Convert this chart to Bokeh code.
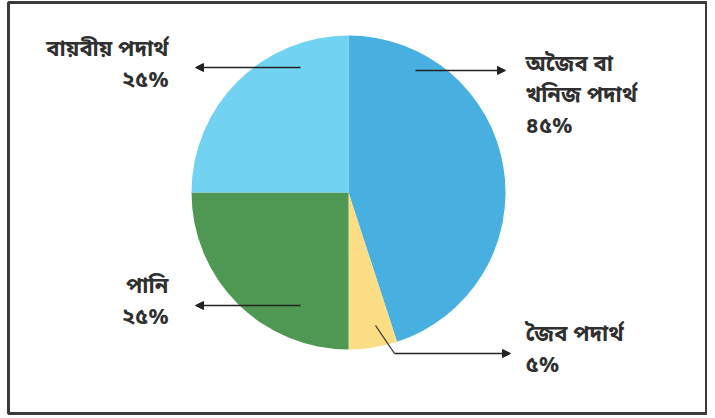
import numpy as np
from bokeh.plotting import figure
from bokeh.models import Range1d, Arrow, NormalHead, ColumnDataSource
from bokeh.core.properties import value
from bokeh.embed import file_html
from bokeh.resources import INLINE

# ---- data ----
categories = ["অজৈব বা খনিজ পদার্থ", "জৈব পদার্থ", "পানি", "বায়বীয় পদার্থ"]
values = [45, 5, 25, 25]
pct_labels = ["৪৫%", "৫%", "২৫%", "২৫%"]
label_lines = [["অজৈব বা", "খনিজ পদার্থ"], ["জৈব পদার্থ"], ["পানি"], ["বায়বীয় পদার্থ"]]
colors = ["#48B0E0", "#FADD84", "#4F9853", "#72D2F1"]

FONT = value("'Noto Sans Bengali', 'Noto Serif Bengali', 'Lohit Bengali', 'Noto Sans', sans-serif")

W, H = 707, 415
BL, BT, BB = 8, 2, 2
FW, FH = W - BL, H - BT - BB
p = figure(width=W, height=H, output_backend="svg", toolbar_location=None,
           x_range=Range1d(-340, -340 + FW), y_range=Range1d(190 - FH, 190),
           min_border_left=BL, min_border_top=BT, min_border_bottom=BB, min_border_right=0,
           background_fill_color="white", border_fill_color="white")
p.axis.visible = False
p.grid.visible = False
p.outline_line_color = "#3a3a3a"
p.outline_line_width = 3

# wedges (clockwise from top)
frac = np.array(values, dtype=float) / sum(values)
ends = np.pi / 2 - 2 * np.pi * np.cumsum(frac)
starts = np.concatenate([[np.pi / 2], ends[:-1]])
src = ColumnDataSource(dict(start=ends, end=starts, color=colors, name=categories))
p.wedge(x=0, y=0, radius=157, start_angle="start", end_angle="end",
        fill_color="color", line_color=None, source=src)

# label positions (x, top line y, align)
label_pos = [(177, 127, "left"), (177, -143, "left"), (-180, -95, "right"), (-180, 142, "right")]
LINE_H = 31
for lines, pct, (lx, ly, al) in zip(label_lines, pct_labels, label_pos):
    all_lines = lines + [pct]
    ys = [ly - i * LINE_H for i in range(len(all_lines))]
    p.text(x=[lx] * len(all_lines), y=ys, text=all_lines, text_font=FONT,
           text_font_size="22px", text_font_style="bold", text_color="#303030",
           text_align=al, text_baseline="middle")

# arrows
def arrow(x0, y0, x1, y1):
    p.add_layout(Arrow(end=NormalHead(size=8, fill_color="#222", line_color="#222"),
                       x_start=x0, y_start=y0, x_end=x1, y_end=y1,
                       line_color="#222", line_width=1.3))

arrow(-48, 125, -153, 125)
arrow(67, 122, 157, 122)
arrow(-48, -113, -153, -113)
p.line(x=[27, 46], y=[-133, -161], line_color="#333", line_width=1.3)
arrow(46, -161, 162, -161)

open("out.html", "w").write(file_html(p, INLINE))
